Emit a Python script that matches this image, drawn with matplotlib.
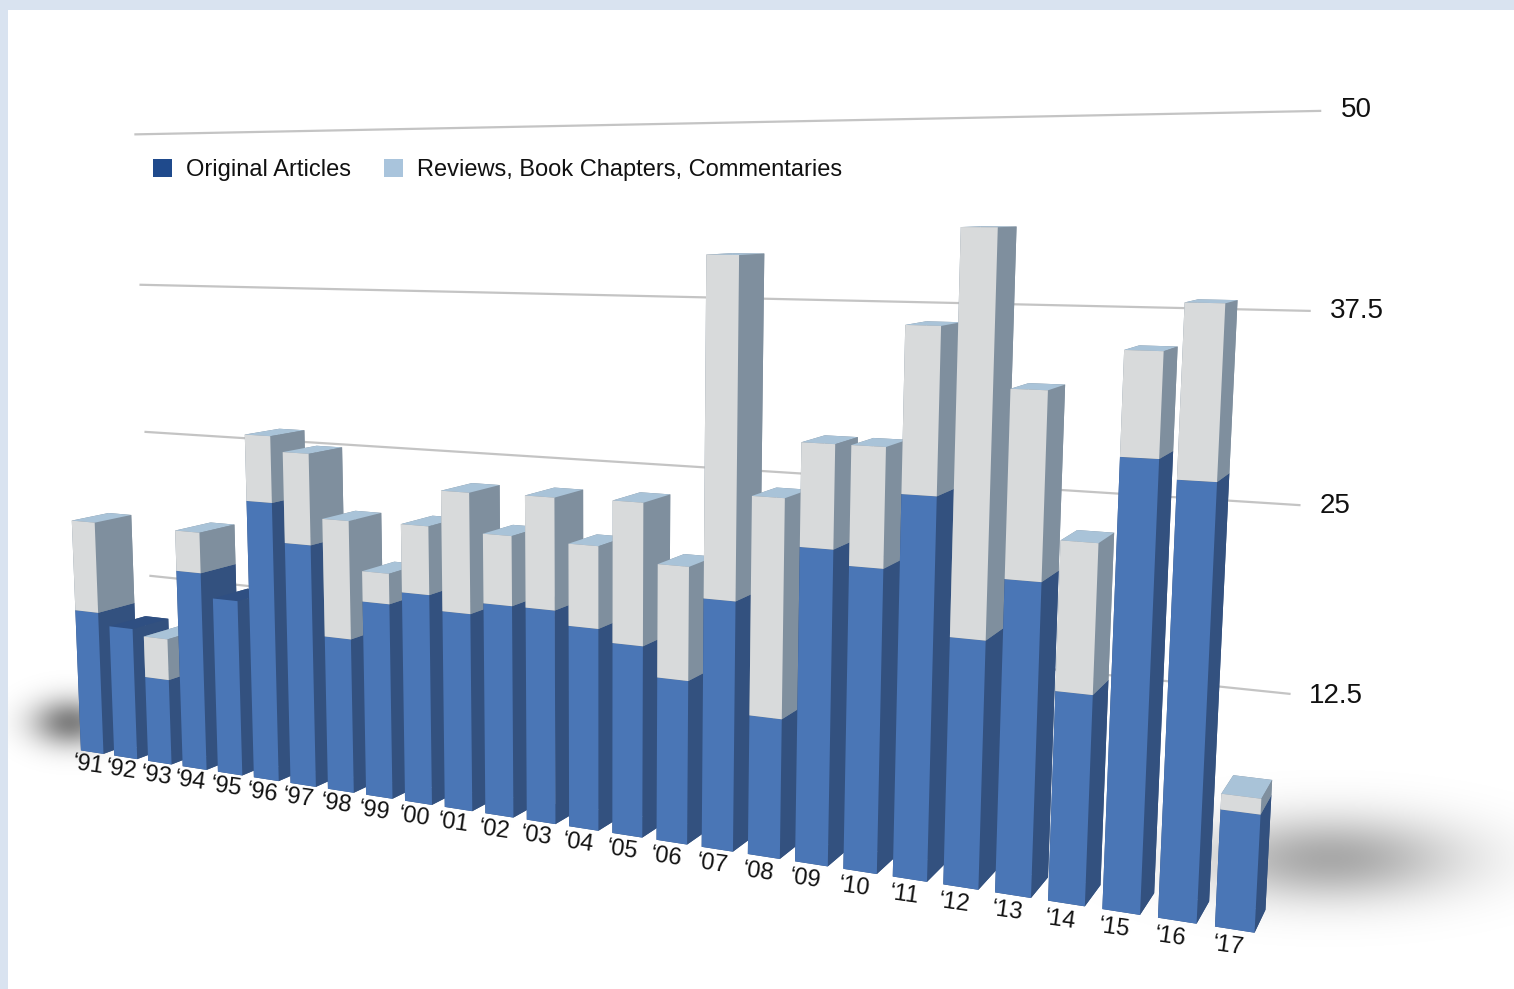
import numpy as np
import matplotlib
matplotlib.use("Agg")
import matplotlib.pyplot as plt
from matplotlib.patches import Patch, Rectangle
from mpl_toolkits.mplot3d import proj3d

plt.rcParams['font.family'] = ['Liberation Sans', 'DejaVu Sans']

# Values
years = ["91", "92", "93", "94", "95", "96", "97", "98", "99", "00", "01", "02", "03",
         "04", "05", "06", "07", "08", "09", "10", "11", "12", "13", "14", "15", "16", "17"]
original = [11.7, 10.7, 6.9, 15.8, 13.9, 21.8, 18.8, 11.9, 14.9, 15.9, 14.8, 15.7, 15.7,
            14.7, 13.8, 11.7, 17.6, 9.8, 21.7, 20.7, 25.7, 16.6, 20.7, 13.8, 28.9, 27.7, 7.5]
reviews = [7.35, 0, 3.3, 3.2, 0, 5.1, 6.95, 9.0, 2.3, 5.1, 8.9, 5.1, 8.1,
           5.9, 10.1, 8.0, 23.3, 15.1, 7.0, 8.0, 10.9, 26.2, 12.1, 9.65, 6.55, 10.7, 1.0]
grid_values = [12.5, 25, 37.5, 50]
grid_labels = ["12.5", "25", "37.5", "50"]

W, H = 1514, 989
fig = plt.figure(figsize=(W / 100, H / 100), dpi=100, facecolor="#d9e3f0")
fig.add_artist(Rectangle((8 / W, 0), 1, 1 - 10 / H, transform=fig.transFigure,
                         facecolor="white", edgecolor="none", zorder=-5))

# soft floor shadows
bg = fig.add_axes([8 / W, 0, 1 - 8 / W, 1 - 10 / H], zorder=0)
px, py = np.meshgrid(np.arange(8, W), np.arange(10, H))
right = 0.34 * np.exp(-((px - 1330) / 130.0) ** 2 - ((py - 858) / 42.0) ** 2)
left = 0.5 * np.exp(-((px - 70) / 38.0) ** 2 - ((py - 722) / 24.0) ** 2)
shade = np.zeros(px.shape + (4,))
shade[..., 3] = np.clip(right + left, 0, 1)
bg.imshow(shade, aspect="auto", interpolation="bilinear")
bg.set_xticks([])
bg.set_yticks([])
bg.set_axis_off()

# 3d axes, placed so the box centre lands on the picture's principal point
S = 1440
ax = fig.add_axes([(600 - 0.5135 * S) / W, (487 - 0.5135 * S) / H, S / W, S / H],
                  projection="3d", zorder=1)
ax.patch.set_alpha(0)
ax.computed_zorder = False
ax.set_proj_type("persp", focal_length=0.2553)
ax.view_init(elev=8.5, azim=-63.5)

bar_w = 0.68
bar_d = 1.3
front = 0.4
shift = -0.21
wall = 3.7
blue_faces = ["#33517f", "#2f4f82", "#4a76b6", "#33517f", "#33517f", "#33517f"]
grey_faces = ["#7f8f9e", "#a9c3d8", "#d8dadb", "#7f8f9e", "#7f8f9e", "#7f8f9e"]

for v in grid_values:
    ax.plot([-0.65, 26.45], [wall, wall], [v, v], color="#c4c4c4", lw=1.6, zorder=0, clip_on=False)

for i, (a, b) in enumerate(zip(original, reviews)):
    ax.bar3d(i + shift, front, 0, bar_w, bar_d, a, color=blue_faces, shade=False, zorder=2 + 2 * i)
    if b > 0:
        ax.bar3d(i + shift, front, a, bar_w, bar_d, b, color=grey_faces, shade=False, zorder=3 + 2 * i)

ax.set_xlim(-0.895, 27.855)
ax.set_ylim(-2.045, 2.955)
ax.set_zlim(0, 47.4)
ax.set_box_aspect((29, 5, 13.81), zoom=1.0796)
ax.set_xticks([])
ax.set_yticks([])
ax.set_zticks([])
ax.set_axis_off()

# labels go on after the limits so they can be projected to flat positions
M = ax.get_proj()
for i in range(len(years)):
    tx, ty, _ = proj3d.proj_transform(i + shift + bar_w / 2 - 0.1, front - 0.05, -1.1, M)
    ax.text2D(tx, ty, "\u2018" + years[i], transform=ax.transData, fontsize=17, rotation=-8,
              ha="center", va="center", color="#111111", zorder=100)
for v, lab in zip(grid_values, grid_labels):
    tx, ty, _ = proj3d.proj_transform(26.8, wall, v, M)
    ax.text2D(tx, ty, lab, transform=ax.transData, fontsize=20, ha="left", va="center",
              color="#111111", zorder=100)

handles = [Patch(facecolor="#1f4a8c"), Patch(facecolor="#a9c4dc")]
fig.legend(handles, ["Original Articles", "Reviews, Book Chapters, Commentaries"],
           loc="center left", bbox_to_anchor=(132 / W, 1 - 170 / H), ncol=2, frameon=False,
           fontsize=17, handlelength=0.8, handleheight=0.8, handletextpad=0.6,
           columnspacing=1.4, labelcolor="#111111")

fig.savefig("out.png", dpi=100, facecolor=fig.get_facecolor())
